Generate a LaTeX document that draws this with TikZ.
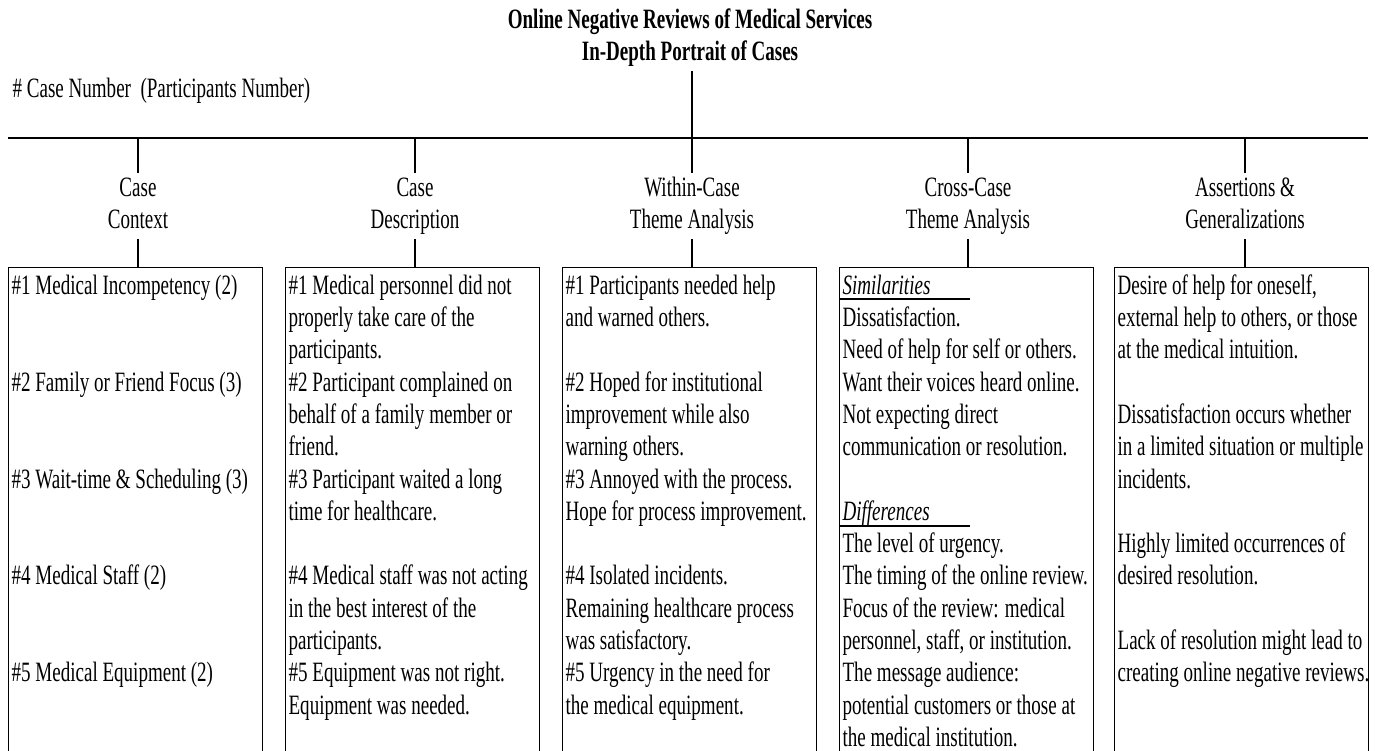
\documentclass[tikz,border=0pt]{standalone}
\usepackage{fontspec}
\setmainfont{Liberation Serif}[FakeStretch=0.68]
\newcommand{\bodyfont}{\fontsize{28}{32.3}\selectfont}
\tikzset{
	cell/.style={draw, anchor=north west, minimum width=254pt, minimum height=520pt, inner sep=0pt},
	celltext/.style={anchor=north west, align=left, inner xsep=3pt, inner ysep=4pt, font=\bodyfont},
	head/.style={anchor=north, align=center, inner sep=0pt, font=\bodyfont},
}
\begin{document}
\begin{tikzpicture}[x=1pt, y=-1pt, line width=1.2pt]
	\fill[white] (0,0) rectangle (1375,750);
	\useasboundingbox (0,0) rectangle (1375,750);
	\clip (0,0) rectangle (1375,750);
	
	\node[head, font=\bfseries\bodyfont] (title) at (690,5) {\strut Online Negative Reviews of Medical Services\\In-Depth Portrait of Cases\strut};
	\node[anchor=base west, inner sep=0pt, font=\bodyfont] (legend) at (12,97) {\# Case Number\ \ (Participants Number)};
	
	\coordinate (busL) at (8,138);
	\coordinate (busR) at (1368,138);
	\draw (busL) -- (busR);
	\draw (title.south -| 692,0) -- (692,138);
	
	% column headers
	\node[head] (ctx) at (138,173) {\strut Case\\Context\strut};
	\node[head] (desc) at (415,173) {\strut Case\\Description\strut};
	\node[head] (within) at (692,173) {\strut Within-Case\\Theme Analysis\strut};
	\node[head] (cross) at (968,173) {\strut Cross-Case\\Theme Analysis\strut};
	\node[head] (assert) at (1245,173) {\strut Assertions \&\\Generalizations\strut};
	
	% boxes, cut off by the lower edge
	\node[cell] (ctxbox) at (8,267) {};
	\node[cell] (descbox) at (285,267) {};
	\node[cell] (withinbox) at (562,267) {};
	\node[cell] (crossbox) at (839,267) {};
	\node[cell] (assertbox) at (1114,267) {};
	
	\foreach \c in {ctx, desc, within, cross, assert} {
		\draw (\c.north |- busL) -- (\c.north);
		\draw (\c.south) -- (\c.south |- \c box.north);
	}
	
	\node[celltext] (ctxtext) at (ctxbox.north west) {\strut\#1 Medical Incompetency (2)\\ \strut\\ \strut\\
		\#2 Family or Friend Focus (3)\\ \strut\\ \strut\\
		\#3 Wait-time \& Scheduling (3)\\ \strut\\ \strut\\
		\#4 Medical Staff (2)\\ \strut\\ \strut\\
		\#5 Medical Equipment (2)};
	\node[celltext] (desctext) at (descbox.north west) {\strut\#1 Medical personnel did not\\ properly take care of the\\ participants.\\
		\#2 Participant complained on\\ behalf of a family member or\\ friend.\\
		\#3 Participant waited a long\\ time for healthcare.\\ \strut\\
		\#4 Medical staff was not acting\\ in the best interest of the\\ participants.\\
		\#5 Equipment was not right.\\ Equipment was needed.};
	\node[celltext] (withintext) at (withinbox.north west) {\strut\#1 Participants needed help\\ and warned others.\\ \strut\\
		\#2 Hoped for institutional\\ improvement while also\\ warning others.\\
		\#3 Annoyed with the process.\\ Hope for process improvement.\\ \strut\\
		\#4 Isolated incidents.\\ Remaining healthcare process\\ was satisfactory.\\
		\#5 Urgency in the need for\\ the medical equipment.};
	\node[celltext] (crosstext) at (crossbox.north west) {\strut\textit{Similarities}\\ Dissatisfaction.\\ Need of help for self or others.\\
		Want their voices heard online.\\ Not expecting direct\\ communication or resolution.\\ \strut\\
		\textit{Differences}\\ The level of urgency.\\ The timing of the online review.\\
		Focus of the review: medical\\ personnel, staff, or institution.\\
		The message audience:\\ potential customers or those at\\ the medical institution.};
	\node[celltext] (asserttext) at (assertbox.north west) {\strut Desire of help for oneself,\\ external help to others, or those\\ at the medical intuition.\\ \strut\\
		Dissatisfaction occurs whether\\ in a limited situation or multiple\\ incidents.\\ \strut\\
		Highly limited occurrences of\\ desired resolution.\\ \strut\\
		Lack of resolution might lead to\\ creating online negative reviews.};
	
	% underlines in the cross-case box
	\draw ([yshift=-32pt]crossbox.north west) -- ++(131,0);
	\draw ([yshift=-259pt]crossbox.north west) -- ++(131,0);
	
\end{tikzpicture}
\end{document}
